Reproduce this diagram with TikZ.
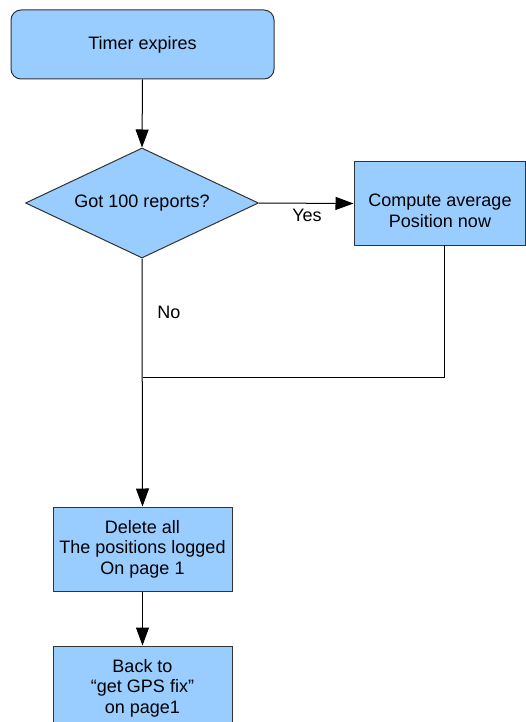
\documentclass[tikz,border=0pt]{standalone}
\usepackage{fontspec}
\setmainfont{Liberation Sans}
\usetikzlibrary{shapes.geometric,arrows.meta}
\definecolor{boxblue}{HTML}{99CCFF}
\definecolor{edgegray}{HTML}{333333}
\begin{document}
\begin{tikzpicture}[x=1pt,y=-1pt,
  every node/.style={font=\fontsize{18}{20.5}\selectfont},
  boxstyle/.style={draw=edgegray, fill=boxblue, line width=1pt, inner sep=0pt, align=center},
  flow/.style={draw=black, line width=1pt, -{Triangle[length=18pt,width=13pt]}},
  plain/.style={draw=black, line width=1pt}]
\clip (0,0) rectangle (526,722);
\fill[white] (0,0) rectangle (526,722);

\node[boxstyle, rounded corners=10pt, minimum width=263pt, minimum height=69pt] (timer) at (142.5,44.5) {Timer expires};
\node[boxstyle, shape=diamond, aspect=2.12, minimum width=233pt, minimum height=110pt] (dec) at (142,203) {Got 100 reports?};
\node[boxstyle, minimum width=171pt, minimum height=83pt] (comp) at (439.5,203.5) {};
\node[align=center] (comptext) at (440,211) {Compute average\\Position now};
\node[boxstyle, minimum width=179pt, minimum height=84pt] (del) at (142.5,549) {Delete all\\The positions logged\\On page 1};
\node[boxstyle, minimum width=179pt, minimum height=84pt] (back) at (142.5,688) {Back to\\``get GPS fix''\\on page1};

\node (yes) at (307,215) {Yes};
\node (no) at (169,312) {No};

\coordinate (cdown) at (444,245);
\coordinate (cturn) at (444,377);
\coordinate (join) at (143,377);

\draw[flow] (timer.south) -- (dec.north);
\draw[flow] (dec.east) -- (comp.west);
\draw[flow] (dec.south) -- (del.north);
\draw[plain] (cdown) -- (cturn) -- (join);
\draw[flow] (del.south) -- (back.north);
\end{tikzpicture}
\end{document}
